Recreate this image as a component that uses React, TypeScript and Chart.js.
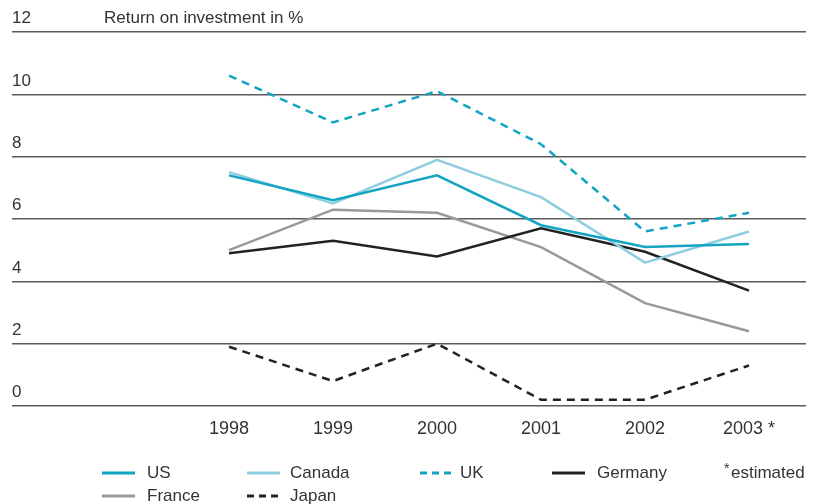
import React, { useEffect, useRef } from 'react';
import { Chart, registerables } from 'chart.js';

Chart.register(...registerables);

// ---- data ----
const years = [1998, 1999, 2000, 2001, 2002, 2003];
const yearLabels = ['1998', '1999', '2000', '2001', '2002', '2003 *'];
const yTicks = [0, 2, 4, 6, 8, 10, 12];
const seriesNames = ['US', 'Canada', 'UK', 'Germany', 'France', 'Japan'];
const us = [7.4, 6.6, 7.4, 5.8, 5.1, 5.2];
const canada = [7.5, 6.5, 7.9, 6.7, 4.6, 5.6];
const uk = [10.6, 9.1, 10.1, 8.4, 5.6, 6.2];
const germany = [4.9, 5.3, 4.8, 5.7, 4.95, 3.7];
const france = [5.0, 6.3, 6.2, 5.1, 3.3, 2.4];
const japan = [1.9, 0.8, 2.0, 0.2, 0.2, 1.3];
const titleText = 'Return on investment in %';
const footnoteMark = '*';
const footnoteText = 'estimated';

// ---- styles ----
const FONT = '"Liberation Sans", Arial, Helvetica, sans-serif';
const TEXT = '#333333';
const TEAL = '#12a4c2';
const LIGHT = '#8fcde0';
const DARK = '#222222';
const GREY = '#999999';

const toPoints = (vals: number[]) => vals.map((v, i) => ({ x: years[i], y: v }));

const legendPos = [
  { row: 0, lineX: 102, textX: 147 },
  { row: 0, lineX: 247, textX: 290 },
  { row: 0, lineX: 420, textX: 460 },
  { row: 0, lineX: 552, textX: 597 },
  { row: 1, lineX: 102, textX: 147 },
  { row: 1, lineX: 247, textX: 290 },
];
const legendRowY = [473, 496];

const overlayPlugin = {
  id: 'overlay',
  afterDraw(chart: any) {
    const { ctx, chartArea } = chart;
    ctx.save();
    ctx.fillStyle = TEXT;
    ctx.textBaseline = 'middle';
    ctx.textAlign = 'left';
    ctx.font = `17px ${FONT}`;
    ctx.fillText(titleText, chartArea.left + 92, chartArea.top - 13.5);

    chart.data.datasets.forEach((ds: any, i: number) => {
      const p = legendPos[i];
      const y = legendRowY[p.row];
      ctx.save();
      ctx.strokeStyle = ds.borderColor;
      ctx.lineWidth = 3;
      ctx.setLineDash(ds.borderDash && ds.borderDash.length ? [7, 5] : []);
      ctx.beginPath();
      ctx.moveTo(p.lineX, y);
      ctx.lineTo(p.lineX + 33, y);
      ctx.stroke();
      ctx.restore();
      ctx.fillStyle = TEXT;
      ctx.font = `17px ${FONT}`;
      ctx.fillText(ds.label, p.textX, y);
    });

    ctx.font = `14px ${FONT}`;
    ctx.fillText(footnoteMark, 724, legendRowY[0] - 4);
    ctx.font = `17px ${FONT}`;
    ctx.fillText(footnoteText, 731, legendRowY[0]);
    ctx.restore();
  },
};

export default function App() {
  const ref = useRef<HTMLCanvasElement | null>(null);

  useEffect(() => {
    if (!ref.current) return;
    const mk = (i: number, vals: number[], color: string, dash: number[]) => ({
      label: seriesNames[i],
      data: toPoints(vals),
      borderColor: color,
      backgroundColor: color,
      borderWidth: 2.5,
      borderDash: dash,
      borderJoinStyle: 'miter' as const,
      borderCapStyle: 'butt' as const,
      pointRadius: 0,
      tension: 0,
      fill: false,
      clip: false as any,
    });
    const chart = new Chart(ref.current, {
      type: 'line',
      data: {
        datasets: [
          mk(0, us, TEAL, []),
          mk(1, canada, LIGHT, []),
          mk(2, uk, TEAL, [8, 6]),
          mk(3, germany, DARK, []),
          mk(4, france, GREY, []),
          mk(5, japan, DARK, [8, 6]),
        ],
      },
      options: {
        responsive: false,
        animation: false,
        events: [],
        layout: { padding: { left: 12, right: 14, top: 32, bottom: 0 } },
        plugins: { legend: { display: false }, tooltip: { enabled: false }, title: { display: false } },
        scales: {
          x: {
            type: 'linear',
            bounds: 'data',
            min: 1995.913,
            max: 2003.548,
            afterBuildTicks: (scale: any) => {
              scale.ticks = years.map((v) => ({ value: v }));
            },
            afterFit: (scale: any) => {
              scale.height = 98;
            },
            grid: { display: false, drawTicks: false },
            border: { display: false },
            ticks: {
              autoSkip: false,
              maxRotation: 0,
              padding: 12,
              color: TEXT,
              font: { family: FONT, size: 18 },
              callback: (_v: any, i: number) => yearLabels[i],
            },
          },
          y: {
            type: 'linear',
            min: 0,
            max: 12,
            afterBuildTicks: (scale: any) => {
              scale.ticks = yTicks.map((v) => ({ value: v }));
            },
            afterFit: (scale: any) => {
              scale.width = 0;
            },
            grid: { color: '#5a5a5a', lineWidth: 1.5, drawTicks: false },
            border: { display: false },
            ticks: {
              mirror: true,
              padding: 0,
              labelOffset: -13.5,
              color: TEXT,
              font: { family: FONT, size: 17 },
              callback: (v: any) => String(v),
            },
          },
        },
      },
      plugins: [overlayPlugin],
    });
    return () => chart.destroy();
  }, []);

  return (
    <div style={{ position: 'absolute', left: 0, top: 0, width: 820, height: 504, background: '#ffffff' }}>
      <canvas ref={ref} width={820} height={504} style={{ display: 'block' }} />
    </div>
  );
}
